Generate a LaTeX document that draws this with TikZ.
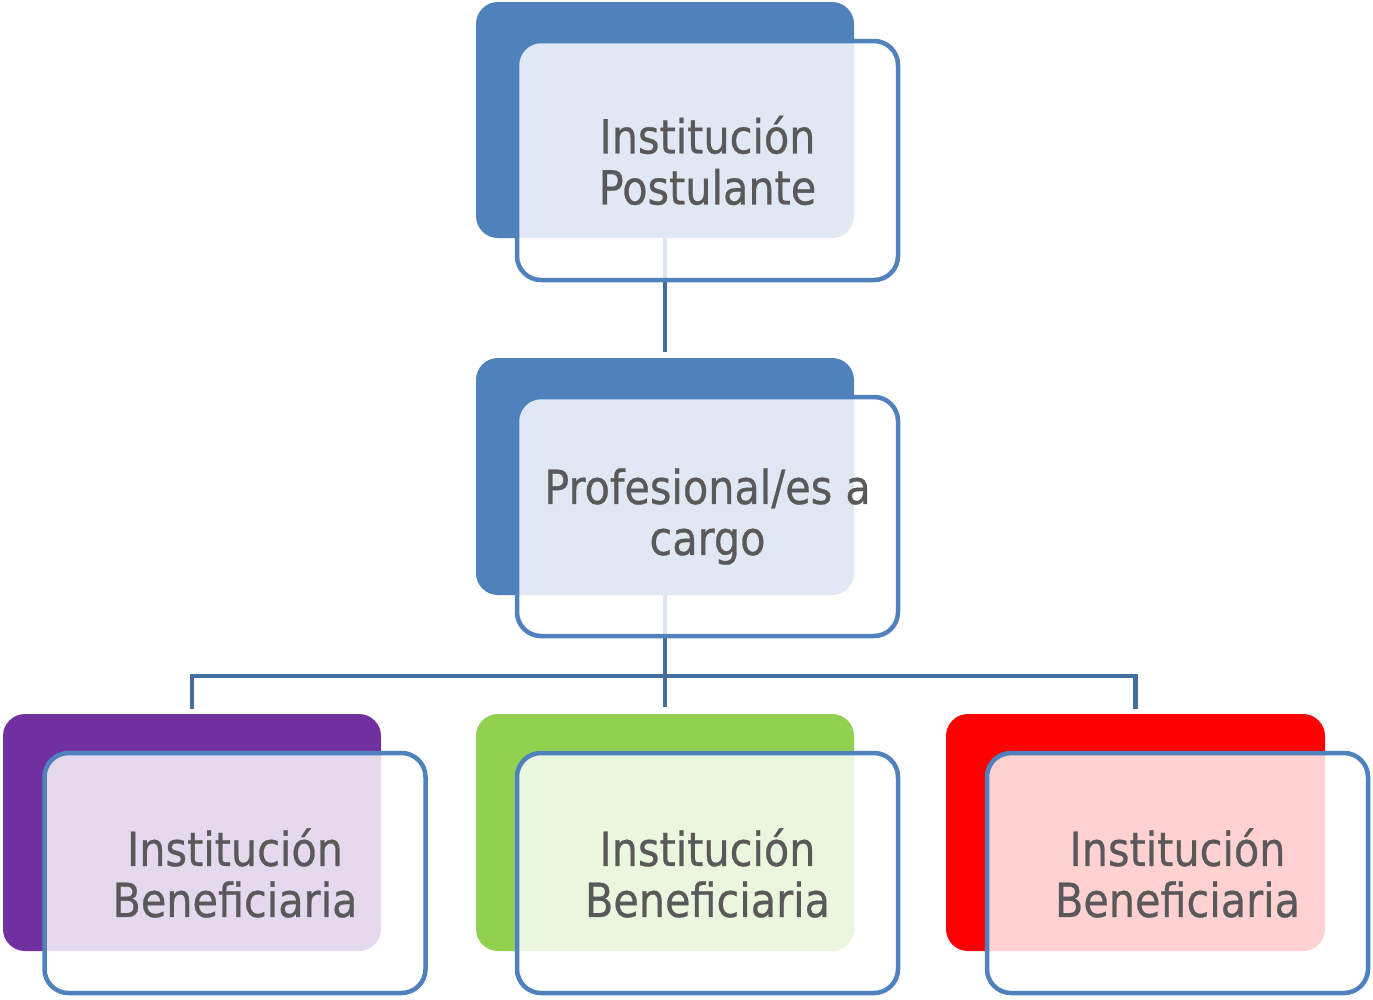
\documentclass[tikz,border=0pt]{standalone}
\usepackage{fontspec}
\setmainfont{DejaVu Sans}[FakeStretch=0.88,FakeBold=0.6]
\definecolor{cblue}{HTML}{4F81BD}
\definecolor{cline}{HTML}{41709F}
\definecolor{cpurple}{HTML}{7030A0}
\definecolor{cgreen}{HTML}{92D050}
\definecolor{cred}{HTML}{FF0000}
\definecolor{ctext}{HTML}{595959}
\tikzset{
  backbox/.style={rectangle, rounded corners=22pt, minimum width=378pt, minimum height=236pt, inner sep=0pt, outer sep=0pt, draw=none, fill=#1},
  frontbox/.style={rectangle, rounded corners=24pt, minimum width=381pt, minimum height=239pt, inner sep=0pt, outer sep=0pt, draw=cblue, line width=4.5pt, fill=white, fill opacity=0.82, text opacity=1, text=ctext, align=center, font=\fontsize{47}{51}\selectfont},
  conn/.style={draw=cline, line width=4.5pt}
}
\begin{document}
\begin{tikzpicture}[x=1pt,y=-1pt]
\useasboundingbox (0,0) rectangle (1373,999);
\fill[white] (0,0) rectangle (1373,999);
% back boxes
\node[backbox=cblue] (b1) at (665,120) {};
\node[backbox=cblue, minimum height=237pt] (b2) at (665,476.5) {};
\node[backbox=cpurple, minimum height=237pt] (b3) at (192,832.5) {};
\node[backbox=cgreen, minimum height=237pt] (b4) at (665,832.5) {};
\node[backbox=cred, minimum height=237pt, minimum width=379pt] (b5) at (1135.5,832.5) {};
% connectors
\coordinate (j) at (665,676);
\draw[conn] (b1.south) -- ([yshift=6pt]b2.north);
\draw[conn] (b2.south) -- (j);
\draw[conn, line cap=rect] (j) -| ([yshift=7pt]b3.north);
\draw[conn] (j) -- ([yshift=7pt]b4.north);
\draw[conn, line cap=rect] (j) -| ([yshift=7pt]b5.north);
% front boxes
\node[frontbox] (f1) at (707.5,160.5) {Institución\\Postulante};
\node[frontbox] (f2) at (707.5,516.5) {Profesional/es a\\cargo};
\node[frontbox, minimum height=240pt] (f3) at (235,873) {Institución\\Beneficiaria};
\node[frontbox, minimum height=240pt] (f4) at (707.5,873) {Institución\\Beneficiaria};
\node[frontbox, minimum height=240pt] (f5) at (1177.5,873) {Institución\\Beneficiaria};
\end{tikzpicture}
\end{document}
